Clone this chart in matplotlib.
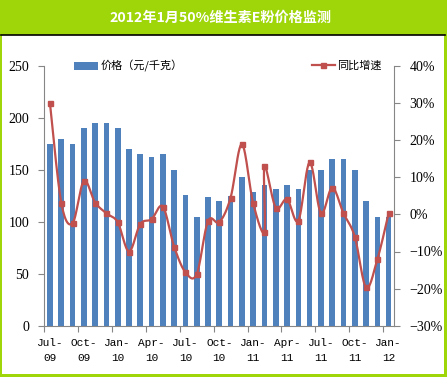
import numpy as np
import matplotlib
matplotlib.use("Agg")
import matplotlib.pyplot as plt
from matplotlib.patches import Rectangle, Patch
from matplotlib.lines import Line2D
from matplotlib.ticker import FixedLocator, PercentFormatter

# ---------------- data ----------------
title = "2012年1月50%维生素E粉价格监测"
months = ["Jul-09", "Aug-09", "Sep-09", "Oct-09", "Nov-09", "Dec-09",
          "Jan-10", "Feb-10", "Mar-10", "Apr-10", "May-10", "Jun-10",
          "Jul-10", "Aug-10", "Sep-10", "Oct-10", "Nov-10", "Dec-10",
          "Jan-11", "Feb-11", "Mar-11", "Apr-11", "May-11", "Jun-11",
          "Jul-11", "Aug-11", "Sep-11", "Oct-11", "Nov-11", "Dec-11",
          "Jan-12"]
price = [175, 180, 175, 190, 195, 195, 190, 170, 165, 162, 165, 150,
         126, 105, 124, 120, 125, 143, 129, 135, 132, 135, 132, 150,
         150, 160, 160, 150, 120, 105, 105]
# growth series (one month reported twice in the source line)
growth_months = ["Jul-09", "Aug-09", "Sep-09", "Oct-09", "Nov-09", "Dec-09",
                 "Jan-10", "Feb-10", "Mar-10", "Apr-10", "May-10", "Jun-10",
                 "Jul-10", "Aug-10", "Sep-10", "Oct-10", "Nov-10", "Dec-10",
                 "Jan-11", "Feb-11", "Feb-11", "Mar-11", "Apr-11", "May-11",
                 "Jun-11", "Jul-11", "Aug-11", "Sep-11", "Oct-11", "Nov-11",
                 "Dec-11", "Jan-12"]
growth = [30.0, 3.2, -2.4, 9.0, 3.2, 0.3, -2.1, -10.0, -2.6, -1.3, 2.1, -8.7,
          -15.6, -16.1, -1.8, -2.1, 4.5, 18.9, 3.0, -4.7, 13.0, 1.8, 4.1, -1.7,
          14.0, 0.3, 7.2, 0.3, -6.0, -19.7, -12.1, 0.3]
bar_label = "价格（元/千克）"
line_label = "同比增速"

# ---------------- style ----------------
GREEN = "#9FD60A"
BLUE = "#4F81BD"
RED = "#C0504D"
GRAY = "#868686"
CJK = ["Noto Sans CJK SC", "DejaVu Sans"]

W, H = 447, 377
fig = plt.figure(figsize=(W / 100, H / 100), dpi=100)
fig.patch.set_facecolor(GREEN)
fig.patches.append(Rectangle((2 / W, 1 - 374 / H), 442 / W, (374 - 35) / H,
                             transform=fig.transFigure, facecolor="white",
                             edgecolor="none", zorder=-10))
fig.lines.append(Line2D([1 / W, 445 / W], [1 - 34.5 / H] * 2,
                        transform=fig.transFigure, color="black", lw=1.2,
                        zorder=-5))
fig.text(220 / W, 1 - 17.5 / H, title, ha="center", va="center",
         color="white", fontsize=10.2, fontweight="bold", family=CJK)

x0, x1, yt, yb = 44.3, 394.3, 66.0, 325.7
ax = fig.add_axes([x0 / W, 1 - yb / H, (x1 - x0) / W, (yb - yt) / H])
ax.set_facecolor("none")
ax2 = ax.twinx()

idx = np.arange(len(months))
ax.bar(idx, price, width=0.5, color=BLUE, zorder=2)
ax.set_xlim(-0.5, len(months) - 0.5)
ax.set_ylim(0, 250)
ax.set_yticks(np.arange(0, 251, 50))

# x ticks: marks at boundaries every 3 months, labels at quarter months
ax.xaxis.set_major_locator(FixedLocator(np.arange(-0.5, len(months) - 0.5, 3)))
ax.xaxis.set_major_formatter(plt.NullFormatter())
lab_pos = idx[::3]
ax.xaxis.set_minor_locator(FixedLocator(lab_pos))
ax.set_xticklabels([months[i].replace("-", "-\n") for i in lab_pos], minor=True)
ax.tick_params(axis="x", which="minor", length=0, pad=9, labelsize=8,
               labelfontfamily="Liberation Mono")
ax.tick_params(axis="x", which="major", length=4, color=GRAY, direction="out")
for t in ax.get_xticklabels(minor=True):
    t.set_linespacing(1.6)

ax.tick_params(axis="y", length=4, color=GRAY, direction="out", labelsize=10,
               labelfontfamily="Liberation Serif", pad=7)
for s in ["top", "right"]:
    ax.spines[s].set_visible(False)
for s in ["left", "bottom"]:
    ax.spines[s].set_color(GRAY)

# smoothed line (Bezier through points, like Excel smoothing)
gx = np.array([months.index(m) for m in growth_months], dtype=float)
gy = np.array(growth, dtype=float)
P = np.column_stack([gx, gy])
n = len(P)
curve = []
t = np.linspace(0, 1, 25)
for i in range(n - 1):
    p0 = P[max(i - 1, 0)]
    p1 = P[i]
    p2 = P[i + 1]
    p3 = P[min(i + 2, n - 1)]
    c1 = p1 + (p2 - p0) / 6
    c2 = p2 - (p3 - p1) / 6
    seg = ((1 - t) ** 3)[:, None] * p1 + (3 * (1 - t) ** 2 * t)[:, None] * c1 \
        + (3 * (1 - t) * t ** 2)[:, None] * c2 + (t ** 3)[:, None] * p2
    curve.append(seg if i == 0 else seg[1:])
curve = np.vstack(curve)
ax2.plot(curve[:, 0], curve[:, 1], color=RED, lw=1.6, zorder=3)
ax2.plot(gx, gy, ls="none", marker="s", ms=3.6, color=RED, zorder=4)
ax2.set_ylim(-30, 40)
ax2.set_yticks(np.arange(-30, 41, 10))
ax2.yaxis.set_major_formatter(PercentFormatter(decimals=0))
ax2.tick_params(axis="y", length=4, color=GRAY, direction="out", labelsize=10,
                labelfontfamily="Liberation Serif", pad=7)
for s in ["top", "left", "bottom"]:
    ax2.spines[s].set_visible(False)
ax2.spines["right"].set_color(GRAY)

# legends
ax.legend([Patch(facecolor=BLUE)], [bar_label], loc="center left",
          bbox_to_anchor=(0.085, 1.0), frameon=False,
          prop={"family": CJK, "size": 8}, handlelength=2.15,
          handleheight=0.7, handletextpad=0.2, borderaxespad=0, borderpad=0)
ax2.legend([Line2D([], [], color=RED, lw=1.6, marker="s", ms=3.6)], [line_label],
           loc="center left", bbox_to_anchor=(0.764, 1.0), frameon=False,
           prop={"family": CJK, "size": 8}, handlelength=2.1,
           handletextpad=0.2, borderaxespad=0, borderpad=0)

fig.savefig("out.png", dpi=100, facecolor=GREEN)
